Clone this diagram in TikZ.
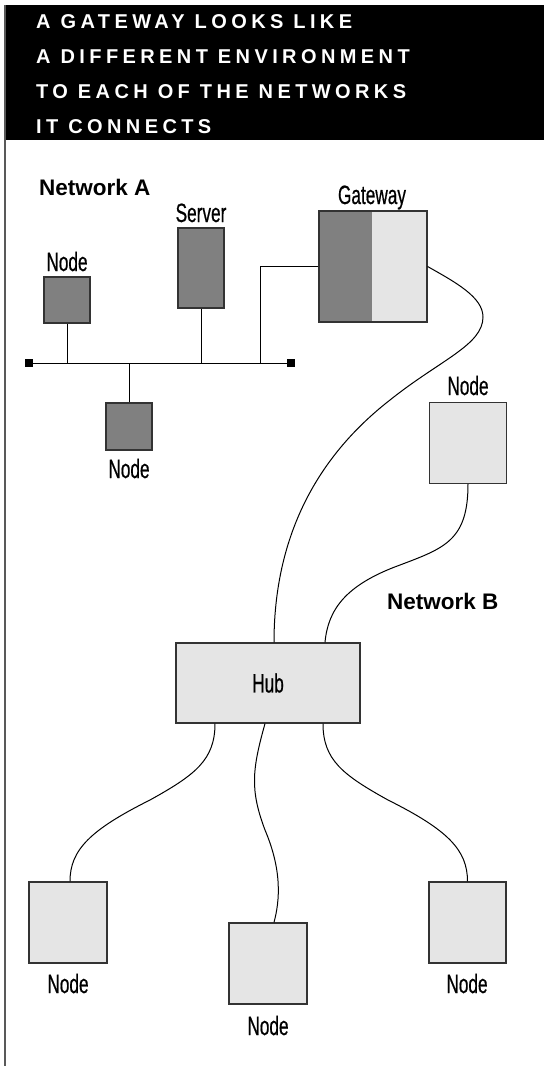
\documentclass[tikz,border=0pt]{standalone}
\usepackage{fontspec}
\setmainfont{Liberation Sans}
\newfontfamily\lblfont[FakeStretch=0.65,FakeBold=0.5]{Liberation Sans}
\newfontfamily\ttlfont[LetterSpace=22]{Liberation Sans}
\usetikzlibrary{positioning}

\tikzset{
  darkbox/.style={draw=black!80, line width=1.2pt, fill=black!50, inner sep=0pt},
  lightbox/.style={draw=black!80, line width=1.2pt, fill=black!10, inner sep=0pt},
  lbl/.style={font=\lblfont\fontsize{26.5}{30}\selectfont, inner sep=0pt, anchor=base},
  netlbl/.style={font=\bfseries\fontsize{22.5}{26}\selectfont, inner sep=0pt, anchor=base west},
  wire/.style={line width=1pt},
}

\begin{document}
\begin{tikzpicture}[x=1pt,y=-1pt]
\useasboundingbox (0,0) rectangle (544,1066);
\fill (5,5) rectangle (544,140);
\draw[black!65, line width=2pt] (5,5) -- (5,1066);
\foreach \t [count=\i] in {A GATEWAY LOOKS LIKE, A DIFFERENT ENVIRONMENT, TO EACH OF THE NETWORKS, IT CONNECTS}
    \node[font=\ttlfont\bfseries\fontsize{20}{22}\selectfont, text=white, inner sep=0pt, anchor=base west] (title\i) at (36,{28+(\i-1)*35}) {\t};

% network A
\node[netlbl] (netA) at (39,195) {Network A};
\node[darkbox, minimum width=46, minimum height=46] (nodeA1) at (67,300) {};
\node[darkbox, minimum width=46, minimum height=80] (server) at (201,268) {};
\node[darkbox, minimum width=46, minimum height=47] (nodeA2) at (129,426.5) {};
\node[lbl] (nodeA1lbl) at (67,271) {Node};
\node[lbl] (serverlbl) at (201,222) {Server};
\node[lbl] (nodeA2lbl) at (129,478) {Node};

\coordinate (busL) at (29,363);
\coordinate (busR) at (291,363);
\coordinate (tap) at (260,363);
\draw[wire] (busL) -- (busR);
\foreach \e in {busL,busR}
    \node[fill, minimum size=8, inner sep=0pt] (\e end) at (\e) {};
\draw[wire] (nodeA1) -- (nodeA1 |- busL);
\draw[wire] (server) -- (server |- busL);
\draw[wire] (nodeA2) -- (nodeA2 |- busL);

% gateway
\node[fill=black!50, minimum width=53, minimum height=111, inner sep=0pt] (gwA) at (345.5,266.5) {};
\node[fill=black!10, minimum width=55, minimum height=111, inner sep=0pt] (gwB) at (399.5,266.5) {};
\node[draw=black!80, line width=1.2pt, minimum width=108, minimum height=111, inner sep=0pt] (gw) at (373,266.5) {};
\node[lbl] (gwlbl) at (372,204) {Gateway};
\draw[wire] (gw.west) -| (tap);

% network B
\node[netlbl] (netB) at (387,609) {Network B};
\node[lightbox, minimum width=77, minimum height=81] (nodeB1) at (468,443) {};
\node[lbl] (nodeB1lbl) at (468,395) {Node};
\node[lightbox, minimum width=184, minimum height=80, font=\lblfont\fontsize{26.5}{30}\selectfont] (hub) at (268,683) {Hub};
\node[lightbox, minimum width=78, minimum height=81] (nodeB2) at (68,922.5) {};
\node[lightbox, minimum width=78, minimum height=81] (nodeB3) at (268,963.5) {};
\node[lightbox, minimum width=77, minimum height=81] (nodeB4) at (467.5,922.5) {};
\node[lbl] (nodeB2lbl) at (68,993) {Node};
\node[lbl] (nodeB3lbl) at (268,1035) {Node};
\node[lbl] (nodeB4lbl) at (467,993) {Node};

\draw[wire] (gw.east) .. controls (455,282) and (483,297) .. (483,317)
    .. controls (483,345) and (440,360) .. (390,400)
    .. controls (300,470) and (274,560) .. ([xshift=6pt]hub.north);
\draw[wire] (nodeB1) .. controls (468,540) and (445,548) .. (400,565)
    .. controls (345,585) and (328,610) .. ([xshift=57pt]hub.north);
\draw[wire] ([xshift=-53pt]hub.south) .. controls (215,760) and (195,775) .. (150,800)
    .. controls (90,830) and (70,850) .. ([xshift=2pt]nodeB2.north);
\draw[wire] ([xshift=-3pt]hub.south) .. controls (252,770) and (250,790) .. (265,830)
    .. controls (282,870) and (280,900) .. ([xshift=6pt]nodeB3.north);
\draw[wire] ([xshift=55pt]hub.south) .. controls (323,760) and (343,775) .. (388,800)
    .. controls (448,830) and (467.5,850) .. (nodeB4.north);
\end{tikzpicture}
\end{document}
